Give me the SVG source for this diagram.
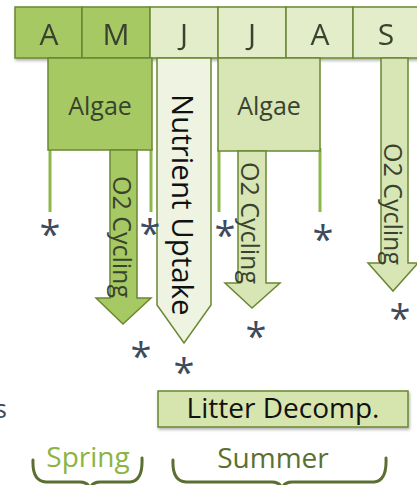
<svg xmlns="http://www.w3.org/2000/svg" width="417" height="485" viewBox="0 0 417 485">
  <defs>
    <filter id="shadow" x="-10%" y="-10%" width="120%" height="130%">
      <feDropShadow dx="1" dy="2" stdDeviation="1.5" flood-color="#000" flood-opacity="0.3"/>
    </filter>
    <style>
      text { font-family: "Open Sans", "Liberation Sans", sans-serif; }
      .dark { fill: #a6c964; stroke: #6a8733; stroke-width: 1.5; }
      .light { fill: #e3edca; stroke: #6a8733; stroke-width: 1.5; }
      .pale { fill: #eef4e1; stroke: #6a8733; stroke-width: 1.5; }
      .mid { fill: #d8e6b6; stroke: #6a8733; stroke-width: 1.5; }
      .month { font-size: 30px; fill: #38432f; text-anchor: middle; }
      .label { font-size: 25px; fill: #38432f; text-anchor: middle; }
      .vert { font-size: 25px; fill: #38432f; dominant-baseline: central; }
      .leg { stroke: #8cb848; stroke-width: 3; fill: none; }
      .star { font-size: 38px; fill: #3d4b5c; text-anchor: middle; }
      .brace { fill: none; stroke: #5b7030; stroke-width: 3; stroke-linecap: round; stroke-linejoin: round; }
    </style>
  </defs>

  <!-- month header row -->
  <g id="months" filter="url(#shadow)">
    <rect class="dark" x="15" y="7" width="67" height="51"/>
    <rect class="dark" x="82" y="7" width="68" height="51"/>
    <rect class="light" x="150" y="7" width="68" height="51"/>
    <rect class="light" x="218" y="7" width="68" height="51"/>
    <rect class="light" x="286" y="7" width="67" height="51"/>
    <rect class="light" x="353" y="7" width="70" height="51"/>
    <text class="month" x="49" y="45">A</text>
    <text class="month" x="116" y="45">M</text>
    <text class="month" x="184" y="45">J</text>
    <text class="month" x="252" y="45">J</text>
    <text class="month" x="320" y="45">A</text>
    <text class="month" x="386" y="45">S</text>
  </g>

  <!-- spring algae block with legs -->
  <g id="algae-spring">
    <line class="leg" x1="50" y1="148" x2="50" y2="212"/>
    <line class="leg" x1="151" y1="148" x2="151" y2="212"/>
    <rect class="dark" x="48" y="58" width="104" height="92"/>
    <text class="label" x="100" y="115">Algae</text>
  </g>

  <!-- spring O2 cycling arrow -->
  <g id="o2-spring">
    <path class="dark" d="M110,150 L137,150 L137,298 L151,298 L123,324 L96,298 L110,298 Z"/>
    <text class="vert" transform="translate(123,176) rotate(90)">O2 Cycling</text>
  </g>

  <!-- nutrient uptake arrow -->
  <g id="nutrient-uptake">
    <path class="pale" d="M157,58 L211,58 L211,305 L184,343 L157,305 Z"/>
    <text class="vert" transform="translate(183,94) rotate(90)" style="font-size:29.5px;fill:#111">Nutrient Uptake</text>
  </g>

  <!-- summer algae block with legs -->
  <g id="algae-summer">
    <line class="leg" x1="219" y1="148" x2="219" y2="212"/>
    <line class="leg" x1="320" y1="148" x2="320" y2="212"/>
    <rect class="mid" x="218" y="58" width="102" height="93"/>
    <text class="label" x="269" y="115">Algae</text>
  </g>

  <!-- summer O2 cycling arrow -->
  <g id="o2-summer">
    <path class="mid" d="M238,151 L266,151 L266,283 L280,283 L252,308 L225,283 L238,283 Z"/>
    <text class="vert" transform="translate(251,162) rotate(90)">O2 Cycling</text>
  </g>

  <!-- late summer O2 cycling arrow -->
  <g id="o2-september">
    <path class="mid" d="M381,58 L408,58 L408,263 L418,263 L393,291 L368,263 L381,263 Z"/>
    <text class="vert" transform="translate(394,143) rotate(90)">O2 Cycling</text>
  </g>

  <!-- asterisks -->
  <g id="markers">
    <text class="star" x="50" y="248">*</text>
    <text class="star" x="150" y="247">*</text>
    <text class="star" x="225" y="249">*</text>
    <text class="star" x="323" y="253">*</text>
    <text class="star" x="141" y="370">*</text>
    <text class="star" x="184" y="386">*</text>
    <text class="star" x="256" y="350">*</text>
    <text class="star" x="400" y="332">*</text>
  </g>

  <!-- clipped side label -->
  <g id="side-label">
    <text x="7" y="418" style="font-size:26px;fill:#3d4b5c;text-anchor:end">s</text>
  </g>

  <!-- litter decomposition bar -->
  <g id="litter-decomp">
    <rect x="158" y="391" width="250" height="36" style="fill:#d6e4ae;stroke:#6a8733;stroke-width:1.5" filter="url(#shadow)"/>
    <text x="283" y="418" style="font-size:28px;fill:#111;text-anchor:middle">Litter Decomp.</text>
  </g>

  <!-- season braces -->
  <g id="season-spring">
    <path class="brace" d="M33,460 Q32,481 46,482 L80,482 Q90,482 90,492 Q90,482 100,482 L130,482 Q143,481 142,458"/>
    <text x="88" y="467" style="font-size:28px;fill:#8ab443;text-anchor:middle">Spring</text>
  </g>
  <g id="season-summer">
    <path class="brace" d="M173,460 Q172,481 186,482 L272,482 Q282,482 282,492 Q282,482 292,482 L374,482 Q387,481 386,458"/>
    <text x="273" y="468" style="font-size:28px;fill:#5b7030;text-anchor:middle">Summer</text>
  </g>
</svg>
